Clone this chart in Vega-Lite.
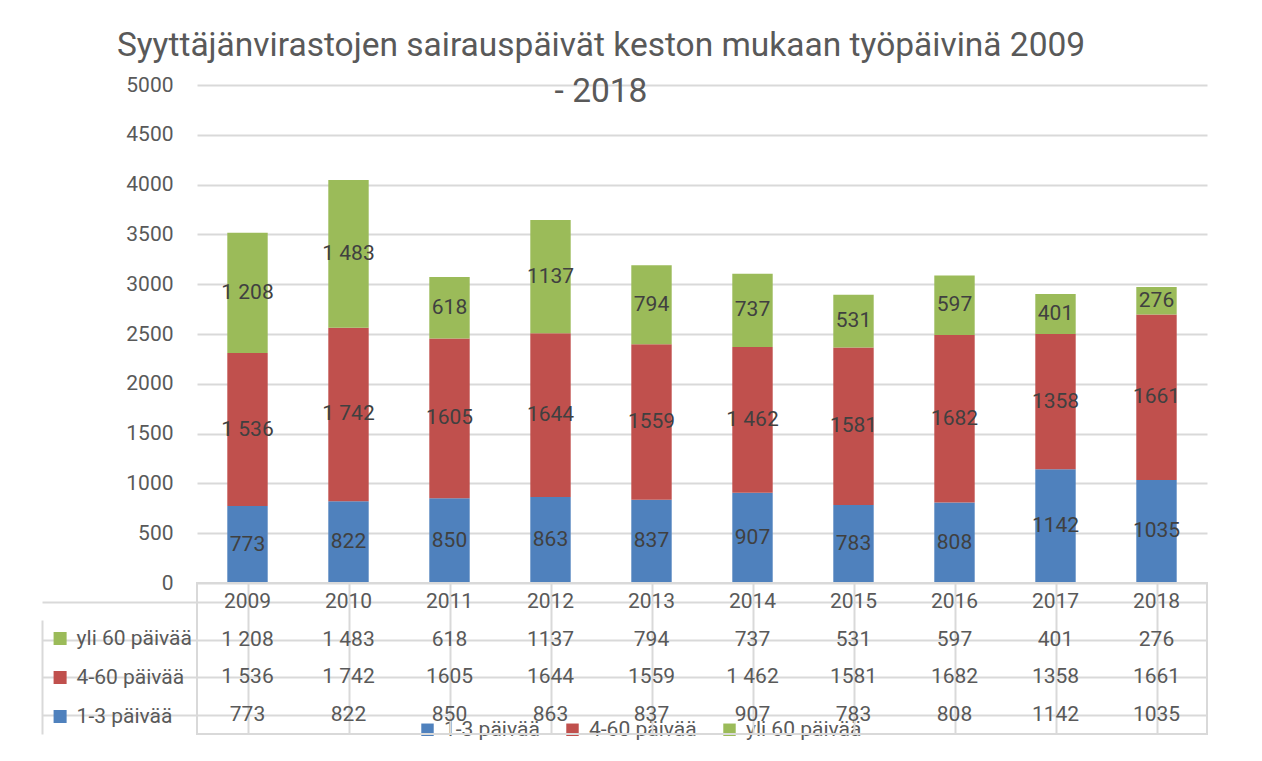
{
  "$schema": "https://vega.github.io/schema/vega-lite/v6.json",
  "padding": {"left": 40, "top": 28, "right": 5, "bottom": 5},
  "background": "white",
  "datasets": {
    "d": [
      {"year": "2009", "series": "1-3 päivää", "value": 773, "label": "773"},
      {"year": "2009", "series": "4-60 päivää", "value": 1536, "label": "1 536"},
      {"year": "2009", "series": "yli 60 päivää", "value": 1208, "label": "1 208"},
      {"year": "2010", "series": "1-3 päivää", "value": 822, "label": "822"},
      {"year": "2010", "series": "4-60 päivää", "value": 1742, "label": "1 742"},
      {"year": "2010", "series": "yli 60 päivää", "value": 1483, "label": "1 483"},
      {"year": "2011", "series": "1-3 päivää", "value": 850, "label": "850"},
      {"year": "2011", "series": "4-60 päivää", "value": 1605, "label": "1605"},
      {"year": "2011", "series": "yli 60 päivää", "value": 618, "label": "618"},
      {"year": "2012", "series": "1-3 päivää", "value": 863, "label": "863"},
      {"year": "2012", "series": "4-60 päivää", "value": 1644, "label": "1644"},
      {"year": "2012", "series": "yli 60 päivää", "value": 1137, "label": "1137"},
      {"year": "2013", "series": "1-3 päivää", "value": 837, "label": "837"},
      {"year": "2013", "series": "4-60 päivää", "value": 1559, "label": "1559"},
      {"year": "2013", "series": "yli 60 päivää", "value": 794, "label": "794"},
      {"year": "2014", "series": "1-3 päivää", "value": 907, "label": "907"},
      {"year": "2014", "series": "4-60 päivää", "value": 1462, "label": "1 462"},
      {"year": "2014", "series": "yli 60 päivää", "value": 737, "label": "737"},
      {"year": "2015", "series": "1-3 päivää", "value": 783, "label": "783"},
      {"year": "2015", "series": "4-60 päivää", "value": 1581, "label": "1581"},
      {"year": "2015", "series": "yli 60 päivää", "value": 531, "label": "531"},
      {"year": "2016", "series": "1-3 päivää", "value": 808, "label": "808"},
      {"year": "2016", "series": "4-60 päivää", "value": 1682, "label": "1682"},
      {"year": "2016", "series": "yli 60 päivää", "value": 597, "label": "597"},
      {"year": "2017", "series": "1-3 päivää", "value": 1142, "label": "1142"},
      {"year": "2017", "series": "4-60 päivää", "value": 1358, "label": "1358"},
      {"year": "2017", "series": "yli 60 päivää", "value": 401, "label": "401"},
      {"year": "2018", "series": "1-3 päivää", "value": 1035, "label": "1035"},
      {"year": "2018", "series": "4-60 päivää", "value": 1661, "label": "1661"},
      {"year": "2018", "series": "yli 60 päivää", "value": 276, "label": "276"}
    ]
  },
  "vconcat": [
    {
      "width": 1010,
      "height": 498,
      "view": {"stroke": null},
      "title": {
        "text": ["Syyttäjänvirastojen sairauspäivät keston mukaan työpäivinä 2009", "- 2018"],
        "font": "Roboto",
        "fontSize": 33.5,
        "fontWeight": "normal",
        "color": "#595959",
        "anchor": "middle",
        "frame": "group",
        "dx": -101,
        "lineHeight": 46,
        "offset": -61,
        "baseline": "alphabetic"
      },
      "data": {"name": "d"},
      "layer": [
        {
          "mark": {"type": "bar"},
          "encoding": {
            "x": {"field": "year", "type": "nominal", "axis": null,
                  "scale": {"paddingInner": 0.6, "paddingOuter": 0.3}},
            "y": {"field": "value", "type": "quantitative", "stack": "zero",
                  "scale": {"domain": [0, 5000], "nice": false},
                  "axis": {"values": [0, 500, 1000, 1500, 2000, 2500, 3000, 3500, 4000, 4500, 5000],
                           "format": "d",
                           "title": null, "domain": false, "ticks": false, "grid": true,
                           "gridColor": "#d9d9d9", "gridWidth": 2, "labelPadding": 24,
                           "labelFont": "Roboto", "labelFontSize": 21, "labelColor": "#595959"}},
            "order": {"field": "series", "type": "nominal", "sort": "ascending"},
            "color": {"field": "series", "type": "nominal",
                      "scale": {"domain": ["1-3 päivää", "4-60 päivää", "yli 60 päivää"],
                                "range": ["#4f81bd", "#c0504d", "#9bbb59"]},
                      "legend": {"orient": "none", "legendX": 220, "legendY": 634,
                                 "direction": "horizontal", "title": null, "symbolType": "square",
                                 "symbolSize": 155, "symbolStrokeWidth": 0, "labelFont": "Roboto",
                                 "labelFontSize": 21, "labelColor": "#595959", "columnPadding": 22,
                                 "labelOffset": 6, "padding": 0}}
          }
        },
        {
          "mark": {"type": "text", "font": "Roboto", "fontSize": 21, "color": "#404040", "baseline": "middle"},
          "encoding": {
            "x": {"field": "year", "type": "nominal"},
            "y": {"field": "value", "type": "quantitative", "stack": "zero", "bandPosition": 0.5},
            "detail": {"field": "series", "type": "nominal"},
            "order": {"field": "series", "type": "nominal", "sort": "ascending"},
            "text": {"field": "label", "type": "nominal"}
          }
        }
      ]
    },
    {
      "width": 1010,
      "height": 151,
      "view": {"stroke": "#d9d9d9", "strokeWidth": 2},
      "data": {"name": "d"},
      "layer": [
        {
          "mark": {"type": "text", "font": "Roboto", "fontSize": 21, "color": "#595959", "baseline": "middle"},
          "encoding": {
            "x": {"field": "year", "type": "nominal",
                  "scale": {"paddingInner": 0, "paddingOuter": 0},
                  "axis": {"grid": true, "bandPosition": 0, "gridColor": "#d9d9d9", "gridWidth": 2,
                           "labels": false, "ticks": false, "domain": false, "title": null}},
            "y": {"field": "series", "type": "nominal",
                  "scale": {"domain": ["Vuosi", "yli 60 päivää", "4-60 päivää", "1-3 päivää"],
                            "paddingInner": 0, "paddingOuter": 0},
                  "axis": {"orient": "left", "bandPosition": 1, "labels": false, "domain": false,
                           "ticks": true, "tickSize": 155, "tickColor": "#d9d9d9", "tickWidth": 2,
                           "grid": true, "gridColor": "#d9d9d9", "gridWidth": 2, "title": null}},
            "text": {"field": "label", "type": "nominal"}
          }
        },
        {
          "transform": [{"filter": "datum.series == '1-3 päivää'"}],
          "mark": {"type": "text", "font": "Roboto", "fontSize": 21, "color": "#595959", "baseline": "middle"},
          "encoding": {
            "x": {"field": "year", "type": "nominal"},
            "y": {"datum": "Vuosi", "type": "nominal",
                  "axis": {"orient": "left", "offset": 155, "labels": false, "ticks": false, "grid": false,
                           "domain": true, "domainColor": "#d9d9d9", "domainWidth": 2,
                           "domainDash": [0, 37, 120], "title": null}},
            "text": {"field": "year", "type": "nominal"}
          }
        },
        {
          "mark": {"type": "square", "size": 0, "strokeWidth": 0},
          "encoding": {
            "x": {"field": "year", "type": "nominal"},
            "y": {"field": "series", "type": "nominal", "axis": null},
            "color": {"field": "series", "type": "nominal",
                      "scale": {"domain": ["yli 60 päivää", "4-60 päivää", "1-3 päivää"],
                                "range": ["#9bbb59", "#c0504d", "#4f81bd"]},
                      "legend": {"orient": "none", "legendX": -147.4, "legendY": 45,
                                 "direction": "vertical", "title": null, "symbolType": "square",
                                 "symbolSize": 170, "symbolStrokeWidth": 0, "symbolOpacity": 1,
                                 "labelFont": "Roboto", "labelFontSize": 21, "labelColor": "#595959",
                                 "rowPadding": 17, "labelOffset": 6, "padding": 0}}
          }
        }
      ],
      "resolve": {"axis": {"y": "independent"}}
    }
  ],
  "spacing": 0,
  "bounds": "flush",
  "resolve": {"scale": {"color": "independent"}, "legend": {"color": "independent"}}
}
